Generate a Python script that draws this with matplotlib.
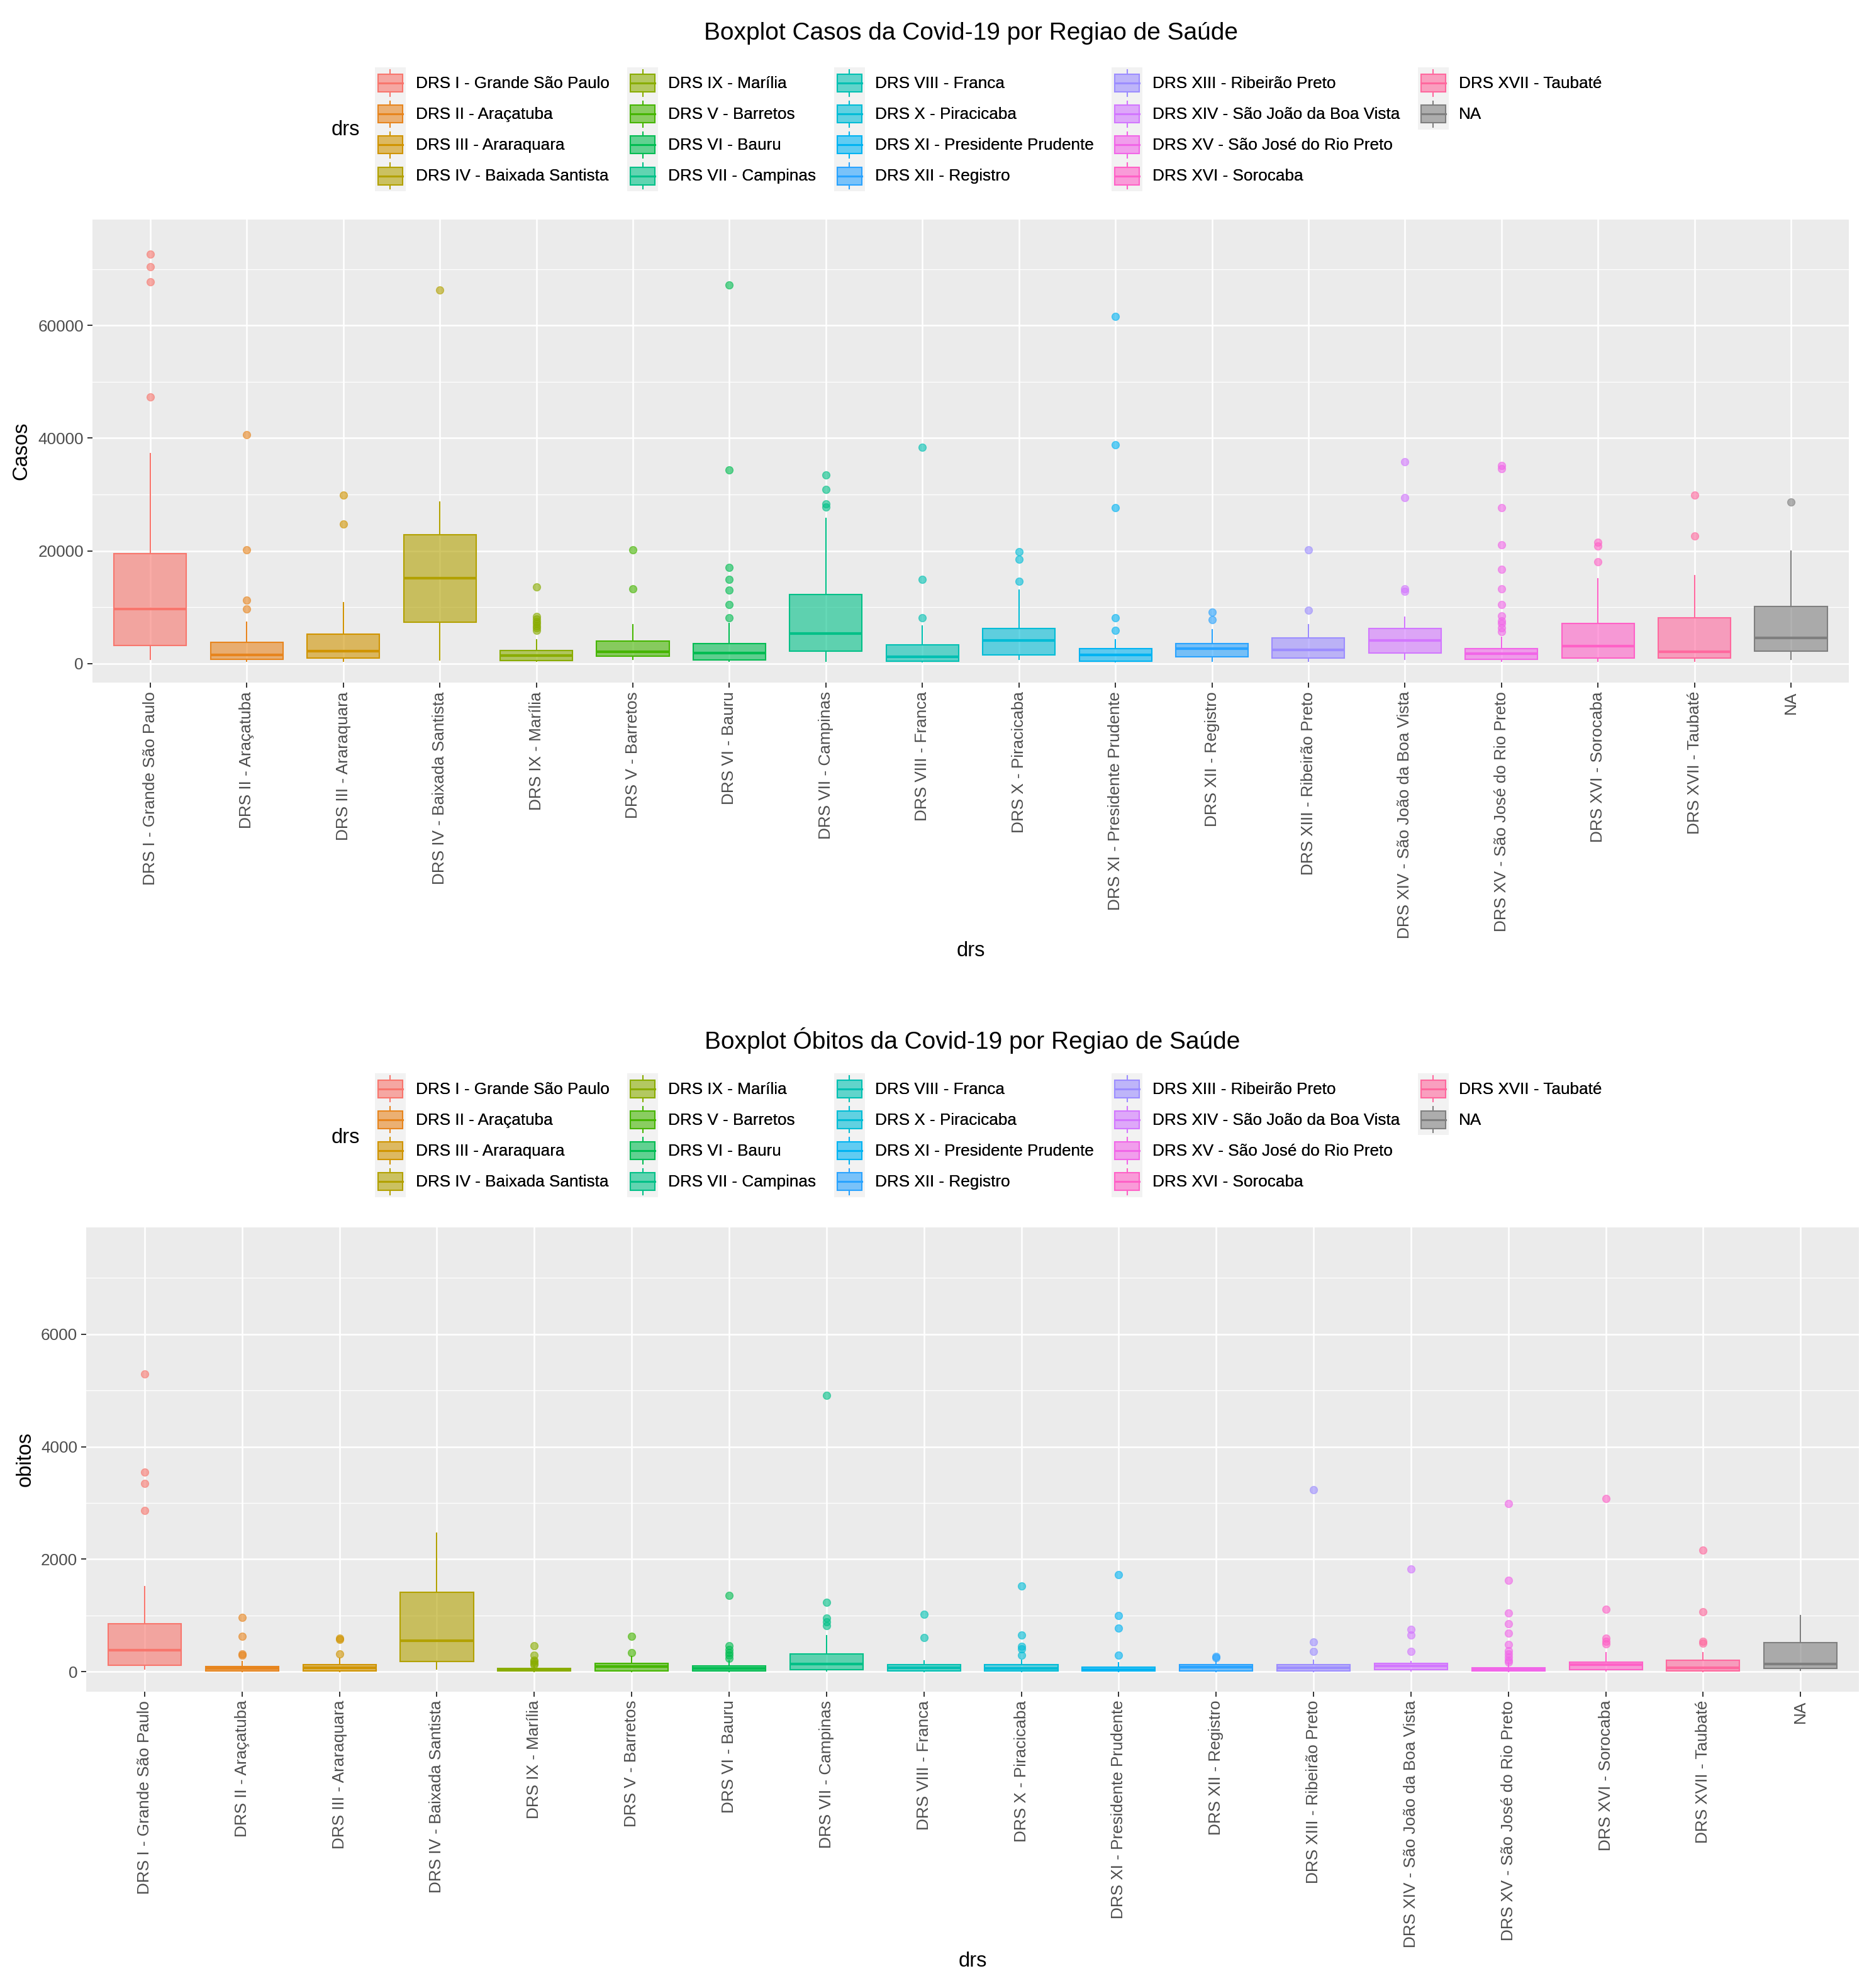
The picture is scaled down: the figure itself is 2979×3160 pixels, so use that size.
import numpy as np
import matplotlib
matplotlib.use('Agg')
import matplotlib.pyplot as plt
from matplotlib.patches import Patch, Rectangle
from matplotlib.lines import Line2D
from matplotlib.legend_handler import HandlerBase

plt.rcParams['font.family'] = ['Liberation Sans', 'DejaVu Sans']

# ---- Data ----
drs = ['DRS I - Grande São Paulo', 'DRS II - Araçatuba', 'DRS III - Araraquara',
       'DRS IV - Baixada Santista', 'DRS IX - Marília', 'DRS V - Barretos',
       'DRS VI - Bauru', 'DRS VII - Campinas', 'DRS VIII - Franca',
       'DRS X - Piracicaba', 'DRS XI - Presidente Prudente', 'DRS XII - Registro',
       'DRS XIII - Ribeirão Preto', 'DRS XIV - São João da Boa Vista',
       'DRS XV - São José do Rio Preto', 'DRS XVI - Sorocaba', 'DRS XVII - Taubaté',
       'NA']

casos_q1 = [3200, 700, 1000, 7300, 500, 1250, 650, 2200, 400, 1500, 400, 1200,
            1000, 1900, 700, 1000, 1000, 2200]
casos_med = [9700, 1500, 2200, 15200, 1400, 2100, 1900, 5300, 1200, 4100, 1500,
             2600, 2400, 4100, 1700, 3100, 2100, 4500]
casos_q3 = [19500, 3800, 5200, 22900, 2300, 4000, 3500, 12200, 3300, 6200, 2600,
            3500, 4500, 6200, 2600, 7100, 8100, 10100]
casos_lo = [700, 400, 400, 650, 400, 800, 400, 400, 350, 800, 350, 400, 400, 700,
            400, 400, 400, 700]
casos_hi = [37200, 7300, 10800, 28700, 4200, 6900, 7100, 25700, 6700, 13000, 4200,
            6000, 6900, 8200, 4700, 15000, 15600, 20000]
casos_out = [
    [72600, 70400, 67700, 47300],
    [40600, 20200, 11200, 9700],
    [29900, 24700],
    [66300],
    [13600, 8300, 7900, 7500, 7100, 6700, 6300, 5900],
    [20200, 13200],
    [67200, 34300, 17000, 14900, 13000, 10500, 8100],
    [33500, 30900, 28300, 27800],
    [38400, 14900, 8100],
    [19800, 18500, 14600],
    [61600, 38800, 27700, 8100, 5900],
    [9100, 7800],
    [20200, 9500],
    [35800, 29400, 13300, 12800],
    [35100, 34600, 27700, 21100, 16700, 13300, 10500, 8500, 7600, 7100, 6300, 5700],
    [21500, 20800, 18000],
    [29900, 22600],
    [28700],
]

obitos_q1 = [114, 16, 16, 185, 16, 16, 16, 38, 16, 16, 11, 16, 16, 38, 16, 38, 16, 60]
obitos_med = [381, 54, 70, 549, 33, 87, 54, 141, 70, 60, 38, 82, 70, 98, 38, 125, 71, 141]
obitos_q3 = [849, 92, 130, 1414, 54, 152, 98, 321, 125, 125, 76, 130, 125, 152, 71,
             174, 201, 517]
obitos_lo = [44, 5, 5, 44, 5, 5, 5, 10, 5, 5, 3, 5, 5, 10, 5, 10, 5, 30]
obitos_hi = [1512, 180, 234, 2464, 98, 272, 190, 636, 196, 201, 163, 180, 201, 180,
             163, 343, 343, 995]
obitos_out = [
    [5298, 3546, 3351, 2866],
    [968, 631, 315, 288],
    [595, 570, 315],
    [],
    [462, 288, 207, 180, 150, 120],
    [631, 337],
    [1360, 462, 397, 343, 288, 234],
    [4912, 1235, 952, 887, 821],
    [1017, 604],
    [1528, 653, 451, 408, 288],
    [1724, 995, 778, 288],
    [272, 245],
    [3231, 533, 359],
    [1822, 756, 653, 359],
    [2991, 1626, 1044, 849, 680, 479, 370, 315, 261, 207, 175],
    [3084, 1115, 598, 544, 490],
    [2159, 1066, 544, 506],
    [],
]


# ---- ggplot-like hue palette ----
def hcl_to_hex(h, c=100.0, l=65.0):
    xn, yn, zn = 95.047, 100.0, 108.883
    un = 4 * xn / (xn + 15 * yn + 3 * zn)
    vn = 9 * yn / (xn + 15 * yn + 3 * zn)
    u = c * np.cos(np.radians(h))
    v = c * np.sin(np.radians(h))
    y = yn * ((l + 16) / 116) ** 3
    up = u / (13 * l) + un
    vp = v / (13 * l) + vn
    x = 9 * y * up / (4 * vp)
    z = y * (12 - 3 * up - 20 * vp) / (4 * vp)
    xyz = np.array([x, y, z]) / 100.0
    m = np.array([[3.2404542, -1.5371385, -0.4985314],
                  [-0.9692660, 1.8760108, 0.0415560],
                  [0.0556434, -0.2040259, 1.0572252]])
    rgb = m @ xyz
    rgb = np.where(rgb <= 0.0031308, 12.92 * rgb, 1.055 * np.power(np.clip(rgb, 0, None), 1 / 2.4) - 0.055)
    rgb = np.clip(rgb, 0, 1)
    return '#%02X%02X%02X' % tuple(int(round(v_ * 255)) for v_ in rgb)


n_lev = len(drs) - 1
hues = np.linspace(15, 375, n_lev + 1)[:n_lev]
colors = [hcl_to_hex(h) for h in hues] + ['#7F7F7F']

ALPHA = 0.6
TICK_FS = 18.8
TITLE_FS = 28
AXT_FS = 23.5
GREY30 = '#4D4D4D'


class BoxKey(HandlerBase):
    def create_artists(self, legend, orig_handle, xd, yd, w, h, fontsize, trans):
        col = orig_handle.get_edgecolor()
        x0, y0 = -xd, -yd
        bg = Rectangle((x0, y0), w, h, facecolor='#F2F2F2', edgecolor='none',
                       transform=trans)
        bw, bh = 0.8 * w, 0.57 * h
        bx, by = x0 + (w - bw) / 2, y0 + (h - bh) / 2
        box = Rectangle((bx, by), bw, bh, facecolor=col, alpha=ALPHA,
                        edgecolor='none', transform=trans)
        edge = Rectangle((bx, by), bw, bh, facecolor='none', edgecolor=col,
                         lw=1.5, transform=trans)
        xc = x0 + w / 2
        med = Line2D([bx, bx + bw], [y0 + h / 2] * 2, color=col, lw=2.2,
                     transform=trans)
        w1 = Line2D([xc, xc], [y0 + 0.08 * h, by], color=col, lw=1.5,
                    transform=trans)
        w2 = Line2D([xc, xc], [by + bh, y0 + 0.92 * h], color=col, lw=1.5,
                    transform=trans)
        return [bg, box, edge, med, w1, w2]


def draw_panel(ax, q1, med, q3, lo, hi, outl, ylabel_ticks, minor_ticks, ylim):
    stats = []
    for i in range(len(drs)):
        stats.append(dict(med=med[i], q1=q1[i], q3=q3[i], whislo=lo[i],
                          whishi=hi[i], fliers=outl[i], label=drs[i]))
    pos = np.arange(1, len(drs) + 1)
    res = ax.bxp(stats, positions=pos, widths=0.75, patch_artist=True,
                 showcaps=False, manage_ticks=False)
    for i, col in enumerate(colors):
        b = res['boxes'][i]
        b.set_facecolor(matplotlib.colors.to_rgba(col, ALPHA))
        b.set_edgecolor(col)
        b.set_linewidth(1.5)
        res['medians'][i].set_color(col)
        res['medians'][i].set_linewidth(3.0)
        for wk in res['whiskers'][2 * i:2 * i + 2]:
            wk.set_color(col)
            wk.set_linewidth(1.5)
        fl = res['fliers'][i]
        fl.set_marker('o')
        fl.set_markersize(8.5)
        fl.set_markerfacecolor(col)
        fl.set_markeredgecolor(col)
        fl.set_alpha(ALPHA)

    ax.set_facecolor('#EBEBEB')
    ax.set_axisbelow(True)
    ax.set_xlim(0.4, len(drs) + 0.6)
    ax.set_ylim(*ylim)
    ax.set_xticks(pos)
    ax.set_xticklabels(drs, rotation=90, ha='center', va='top')
    ax.set_yticks(ylabel_ticks)
    ax.set_yticks(minor_ticks, minor=True)
    ax.set_yticklabels([str(t) for t in ylabel_ticks])
    ax.grid(True, which='major', color='white', lw=1.8)
    ax.grid(True, which='minor', axis='y', color='white', lw=0.9)
    ax.tick_params(axis='both', which='major', labelsize=TICK_FS, labelcolor=GREY30,
                   color='#333333', length=6, width=1.4, pad=4)
    ax.tick_params(axis='y', which='minor', length=0)
    for sp in ax.spines.values():
        sp.set_visible(False)


fig = plt.figure(figsize=(29.79, 31.6), dpi=100)

ax1 = fig.add_axes([0.0493, 0.6566, 0.9373, 0.2330])
draw_panel(ax1, casos_q1, casos_med, casos_q3, casos_lo, casos_hi, casos_out,
           [0, 20000, 40000, 60000], [10000, 30000, 50000, 70000], (-3400, 78800))

ax2 = fig.add_axes([0.046, 0.1491, 0.946, 0.2335])
draw_panel(ax2, obitos_q1, obitos_med, obitos_q3, obitos_lo, obitos_hi, obitos_out,
           [0, 2000, 4000, 6000], [1000, 3000, 5000, 7000], (-354, 7900))

# titles and axis titles
fig.text(0.518, 0.9832, 'Boxplot Casos da Covid-19 por Regiao de Saúde',
         fontsize=TITLE_FS, ha='center', va='center')
fig.text(0.519, 0.4765, 'Boxplot Óbitos da Covid-19 por Regiao de Saúde',
         fontsize=TITLE_FS, ha='center', va='center')
fig.text(0.0114, 0.6566 + 0.2330 / 2, 'Casos', fontsize=AXT_FS, rotation=90,
         ha='center', va='center')
fig.text(0.0134, 0.1491 + 0.2335 / 2, 'obitos', fontsize=AXT_FS, rotation=90,
         ha='center', va='center')
fig.text(0.518, 0.5218, 'drs', fontsize=AXT_FS, ha='center', va='center')
fig.text(0.519, 0.0136, 'drs', fontsize=AXT_FS, ha='center', va='center')

# legends (two blank entries so the fifth column holds only two keys)
handles = [Patch(facecolor=c, edgecolor=c) for c in colors]
blank = [Line2D([], [], alpha=0), Line2D([], [], alpha=0)]
labels = drs + ['', '']
for ytop, ytitle in [(0.966, 0.9348), (0.4601, 0.4278)]:
    leg = fig.legend(handles + blank, labels, loc='upper left',
                     bbox_to_anchor=(0.200, ytop), ncol=5, frameon=False,
                     fontsize=TICK_FS, handler_map={Patch: BoxKey()},
                     handlelength=1.88, handleheight=2.52, handletextpad=0.6,
                     labelspacing=0.0, columnspacing=1.1, borderpad=0,
                     borderaxespad=0)
    fig.add_artist(leg)
    fig.text(0.1843, ytitle, 'drs', fontsize=AXT_FS, ha='center', va='center')

fig.savefig('out.png', dpi=100)
